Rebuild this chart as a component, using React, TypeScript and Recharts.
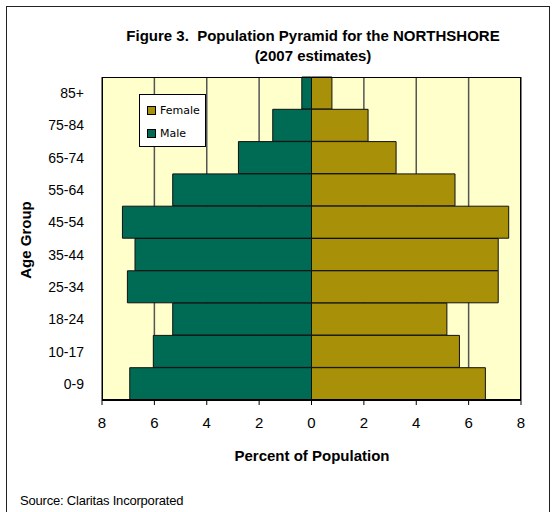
import { Bar, BarChart, CartesianGrid, XAxis, YAxis } from 'recharts';

// age groups, top of the pyramid first
const ageGroups = ['85+', '75-84', '65-74', '55-64', '45-54', '35-44', '25-34', '18-24', '10-17', '0-9'];
const malePct = [0.37, 1.48, 2.79, 5.3, 7.22, 6.74, 7.03, 5.3, 6.04, 6.94];
const femalePct = [0.78, 2.16, 3.23, 5.48, 7.53, 7.13, 7.13, 5.17, 5.65, 6.64];
const xTicks = [-8, -6, -4, -2, 0, 2, 4, 6, 8];

const MALE = '#006B54';
const FEMALE = '#A89008';
const ARIAL = 'Arial, "Liberation Sans", sans-serif';

const data = ageGroups.map((age, i) => ({
  age,
  male: -malePct[i],
  female: femalePct[i]
}));

function LegendBox() {
  const items = [
    { name: 'Female', color: FEMALE },
    { name: 'Male', color: MALE }
  ];
  return (
    <div
      style={{
        position: 'absolute',
        left: 139,
        top: 94,
        width: 67,
        height: 53,
        background: '#fff',
        border: '1px solid #000',
        boxSizing: 'border-box',
        padding: '4px 0 0 7px',
        fontFamily: '"DejaVu Sans", sans-serif',
        fontSize: 11
      }}
    >
      {items.map((it) => (
        <div key={it.name} style={{ display: 'flex', alignItems: 'center', height: 23 }}>
          <span
            style={{
              width: 7,
              height: 7,
              background: it.color,
              border: '1px solid #000',
              marginRight: 4
            }}
          />
          {it.name}
        </div>
      ))}
    </div>
  );
}

export default function App() {
  return (
    <div style={{ position: 'absolute', left: 0, top: 0, width: 555, height: 512, overflow: 'hidden', background: '#fff' }}>
      <div
        style={{
          position: 'absolute',
          left: 0,
          top: 26,
          width: 626,
          textAlign: 'center',
          fontFamily: ARIAL,
          fontWeight: 'bold',
          fontSize: 15,
          lineHeight: '20px',
          whiteSpace: 'pre'
        }}
      >
        {'Figure 3.  Population Pyramid for the NORTHSHORE\n(2007 estimates)'}
      </div>

      <div style={{ position: 'absolute', left: 0, top: 0 }}>
        <BarChart
          width={555}
          height={512}
          data={data}
          layout="vertical"
          stackOffset="sign"
          barCategoryGap={0}
          margin={{ top: 77, right: 34, left: 42, bottom: 82 }}
        >
          <CartesianGrid horizontal={false} fill="#FFFFCC" stroke="#555" strokeWidth={1.5} />
          <XAxis
            type="number"
            domain={[-8, 8]}
            ticks={xTicks}
            tickFormatter={(v: number) => String(Math.abs(v))}
            height={30}
            axisLine={{ stroke: '#000', strokeWidth: 2 }}
            tickLine={{ stroke: '#000' }}
            tickSize={5}
            tickMargin={12}
            tick={{ fill: '#000', fontSize: 15, fontFamily: ARIAL }}
          />
          <YAxis
            type="category"
            dataKey="age"
            width={60}
            axisLine={false}
            tickLine={false}
            tick={{ fill: '#000', fontSize: 14, fontFamily: ARIAL }}
            tickMargin={12}
          />
          <Bar dataKey="male" name="Male" stackId="a" fill={MALE} stroke="#111" strokeWidth={1} isAnimationActive={false} />
          <Bar dataKey="female" name="Female" stackId="a" fill={FEMALE} stroke="#111" strokeWidth={1} isAnimationActive={false} />
        </BarChart>
      </div>

      <div
        style={{
          position: 'absolute',
          left: 102,
          top: 77,
          width: 419,
          height: 324,
          border: '1px solid #000',
          boxSizing: 'border-box',
          pointerEvents: 'none'
        }}
      />
      <LegendBox />
      <div
        style={{
          position: 'absolute',
          left: 25,
          top: 240,
          transform: 'translate(-50%, -50%) rotate(-90deg)',
          fontFamily: ARIAL,
          fontWeight: 'bold',
          fontSize: 15,
          whiteSpace: 'nowrap'
        }}
      >
        Age Group
      </div>
      <div
        style={{
          position: 'absolute',
          left: 0,
          top: 447,
          width: 624,
          textAlign: 'center',
          fontFamily: ARIAL,
          fontWeight: 'bold',
          fontSize: 15
        }}
      >
        Percent of Population
      </div>
      <div
        style={{
          position: 'absolute',
          left: 20,
          top: 493,
          fontFamily: ARIAL,
          fontSize: 13,
          letterSpacing: -0.2
        }}
      >
        Source: Claritas Incorporated
      </div>
      <div
        style={{
          position: 'absolute',
          left: 6,
          top: 6,
          width: 544,
          height: 530,
          border: '1px solid #222',
          boxSizing: 'border-box',
          pointerEvents: 'none'
        }}
      />
    </div>
  );
}
